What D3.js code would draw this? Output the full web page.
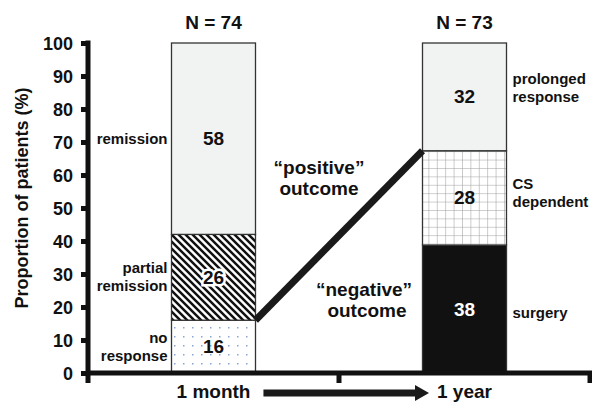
<!DOCTYPE html>
<html><head><meta charset="utf-8">
<script src="https://cdn.jsdelivr.net/npm/d3@7"></script>
<style>
html,body{margin:0;padding:0;background:#fff;}
svg{display:block;font-family:"Liberation Sans",Arial,Helvetica,sans-serif;font-weight:bold;}
</style></head>
<body>
<svg id="chart" width="592" height="402"></svg>
<script>
// ---- data ----
const timepoints = ["1 month", "1 year"];
const sampleSizes = ["N = 74", "N = 73"];
const monthSegments = ["no response", "partial remission", "remission"];
const monthValues = [16, 26, 58];
const yearSegments = ["surgery", "CS dependent", "prolonged response"];
const yearValues = [38, 28, 32];
const yTicks = [0, 10, 20, 30, 40, 50, 60, 70, 80, 90, 100];
const yTitle = "Proportion of patients (%)";
const outcomeLabels = [["\u201cpositive\u201d", "outcome"], ["\u201cnegative\u201d", "outcome"]];

const svg = d3.select("#chart");
const defs = svg.append("defs");

// patterns
const hatch = defs.append("pattern").attr("id","hatch").attr("patternUnits","userSpaceOnUse")
  .attr("width",7).attr("height",7);
hatch.append("rect").attr("width",7).attr("height",7).attr("fill","#fff");
hatch.append("path").attr("d","M-1,-1L8,8M-1,6L1,8M6,-1L8,1").attr("stroke","#111").attr("stroke-width",2.5);

const dots = defs.append("pattern").attr("id","dots").attr("patternUnits","userSpaceOnUse")
  .attr("width",9).attr("height",9);
dots.append("rect").attr("width",9).attr("height",9).attr("fill","#fff");
dots.append("rect").attr("x",3).attr("y",3).attr("width",1.5).attr("height",1.5).attr("fill","#8aa3d6");

const grid = defs.append("pattern").attr("id","grid").attr("patternUnits","userSpaceOnUse")
  .attr("width",8.4).attr("height",8.4);
grid.append("rect").attr("width",8.4).attr("height",8.4).attr("fill","#fff");
grid.append("path").attr("d","M0,0V8.4M0,0H8.4").attr("stroke","#9a9a9a").attr("stroke-width",1);

const fills = [["url(#dots)","url(#hatch)","#f1f3f3"],["#111","url(#grid)","#f1f3f3"]];
const numColors = [["#111","#111","#111"],["#fff","#111","#111"]];

// scales
const y = d3.scaleLinear().domain([0,100]).range([373,43]);
const x = d3.scaleBand().domain(timepoints).range([88,590]).padding(0);
const barW = 84;

// stacks (normalised to 100%)
function stack(vals){
  const tot = d3.sum(vals); let c = 0;
  return vals.map(v => { const s = c/tot*100; c += v; return {v, y0:s, y1:c/tot*100}; });
}
const stacks = [stack(monthValues), stack(yearValues)];
const names = [monthSegments, yearSegments];

// bars
timepoints.forEach((t,i)=>{
  const cx = x(t) + x.bandwidth()/2;
  const g = svg.append("g");
  g.selectAll("rect").data(stacks[i]).join("rect")
    .attr("x", cx-barW/2).attr("width", barW)
    .attr("y", d=>y(d.y1)).attr("height", d=>y(d.y0)-y(d.y1))
    .attr("fill",(d,j)=>fills[i][j]).attr("stroke","#333").attr("stroke-width",1.3);
  g.selectAll("text.num").data(stacks[i]).join("text").attr("class","num")
    .attr("x",cx).attr("y",d=>y((d.y0+d.y1)/2)+6.5).attr("text-anchor","middle")
    .attr("font-size",19).attr("fill",(d,j)=>numColors[i][j])
    .attr("stroke",(d,j)=> (i===0&&j===1)?"#fff":"none").attr("stroke-width",5)
    .attr("paint-order","stroke")
    .text(d=>d.v);
  // N label
  svg.append("text").attr("x",cx).attr("y",29).attr("text-anchor","middle")
    .attr("font-size",19).attr("fill","#111").text(sampleSizes[i]);
  // side labels
  const left = i===0;
  const lx = left ? cx-barW/2-4 : cx+barW/2+6;
  const shifts = left ? [0,0,0] : [4,-5,-9];
  stacks[i].forEach((d,j)=>{
    const words = names[i][j].split(" ");
    const lines = (names[i][j]==="remission"||names[i][j]==="surgery") ? [names[i][j]] : words;
    const cy = y((d.y0+d.y1)/2) + shifts[j];
    const lh = 18;
    const txt = svg.append("text").attr("text-anchor", left?"end":"start")
      .attr("font-size",15).attr("fill","#111");
    lines.forEach((l,k)=>{
      txt.append("tspan").attr("x",lx)
        .attr("y", cy + (k-(lines.length-1)/2)*lh + 5).text(l);
    });
  });
});

// connecting line
const x1 = x(timepoints[0]) + x.bandwidth()/2 + barW/2;
const x2 = x(timepoints[1]) + x.bandwidth()/2 - barW/2;
const y1 = y(stacks[0][0].y1);
const y2 = y(stacks[1][1].y1);
svg.append("line").attr("x1",x1).attr("y1",y1).attr("x2",x2).attr("y2",y2)
  .attr("stroke","#1a1a1a").attr("stroke-width",7);

const mx = (x1+x2)/2, my = (y1+y2)/2;
[[mx-20, my-61],[mx+25, my+61]].forEach((p,i)=>{
  const t = svg.append("text").attr("text-anchor","middle").attr("font-size",19).attr("fill","#111");
  outcomeLabels[i].forEach((l,k)=>{
    t.append("tspan").attr("x",p[0] + (k===1 && i===1 ? 3 : 0)).attr("y",p[1]+k*21).text(l);
  });
});

// y axis
const yAxis = svg.append("g").attr("transform","translate(88,0)")
  .call(d3.axisLeft(y).tickValues(yTicks).tickSize(7).tickSizeOuter(0).tickPadding(8));
yAxis.select(".domain").remove();
yAxis.selectAll(".tick line").attr("stroke","#111").attr("stroke-width",5);
yAxis.selectAll(".tick text").attr("font-size",18).attr("font-family",null).attr("fill","#111").attr("dy","0.36em");
svg.append("line").attr("x1",88).attr("x2",88).attr("y1",y(100)-2.5).attr("y2",y(0)+10)
  .attr("stroke","#111").attr("stroke-width",5);

// x axis
svg.append("line").attr("x1",86).attr("x2",592).attr("y1",y(0)).attr("y2",y(0))
  .attr("stroke","#111").attr("stroke-width",5);
const xb = timepoints.map(t=>x(t)).concat([x.range()[1]]);
svg.selectAll("line.xt").data(xb.slice(1)).join("line").attr("class","xt")
  .attr("x1",d=>d).attr("x2",d=>d).attr("y1",y(0)).attr("y2",y(0)+10)
  .attr("stroke","#111").attr("stroke-width",5);

// x labels + arrow
const xl = svg.selectAll("text.xl").data(timepoints).join("text").attr("class","xl")
  .attr("x",d=>x(d)+x.bandwidth()/2).attr("y",398).attr("text-anchor","middle")
  .attr("font-size",19).attr("fill","#111").text(d=>d);
const n0 = xl.nodes()[0], n1 = xl.nodes()[1];
const endA = x(timepoints[0])+x.bandwidth()/2 + n0.getComputedTextLength()/2 + 13;
const startB = x(timepoints[1])+x.bandwidth()/2 - n1.getComputedTextLength()/2 - 8;
const ay = 393;
svg.append("rect").attr("x",endA).attr("y",ay-3.5).attr("width",startB-13-endA).attr("height",7).attr("fill","#1a1a1a");
svg.append("path").attr("d",`M${startB-14},${ay-8}L${startB},${ay}L${startB-14},${ay+8}Z`).attr("fill","#1a1a1a");

// y title
svg.append("text").attr("transform","translate(28,198) rotate(-90)").attr("text-anchor","middle")
  .attr("font-size",18).attr("fill","#111").text(yTitle);
</script>
</body></html>
